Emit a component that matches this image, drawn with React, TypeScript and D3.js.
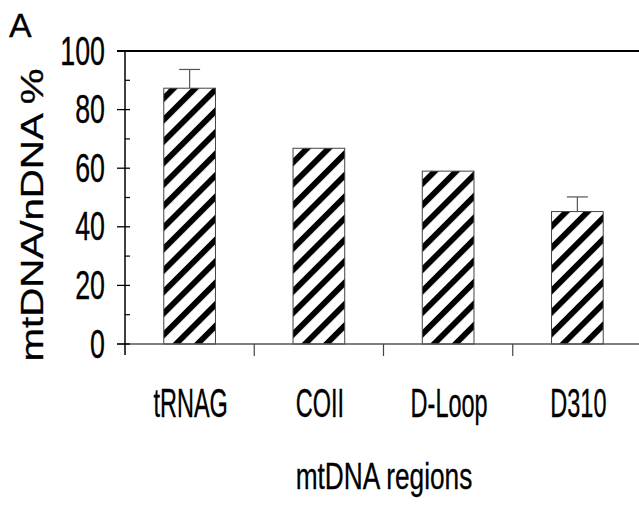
import React from "react";
import * as d3 from "d3";

const categories = ["tRNAG", "COII", "D-Loop", "D310"];
const values = [87.3, 66.8, 59.0, 45.2];
const errors = [6.4, 0, 0, 5.0];
const majorTicks = [0, 20, 40, 60, 80, 100];
const minorTicks = [10, 30, 50, 70, 90];
const yTitle = "mtDNA/nDNA %";
const xTitle = "mtDNA regions";
const panelLabel = "A";

const W = 639;
const H = 506;
const FONT = "'Liberation Sans', Arial, sans-serif";

export default function App() {
  const x = d3.scaleBand<string>().domain(categories).range([125, 642]).padding(0);
  const y = d3.scaleLinear().domain([0, 100]).range([344, 51]);
  const bw = x.bandwidth();
  const barW = bw * 0.4;
  const boundaries = categories.slice(1).map((c) => x(c) as number);

  return (
    <svg
      width={W}
      height={H}
      style={{ position: "absolute", left: 0, top: 0, background: "#fff" }}
      fontFamily={FONT}
    >
      <defs>
        <pattern
          id="hatch"
          patternUnits="userSpaceOnUse"
          width={15.2}
          height={10}
          patternTransform="rotate(45)"
        >
          <rect x={0} y={0} width={15.2} height={10} fill="#fff" />
          <rect x={0} y={0} width={5.8} height={10} fill="#000" />
        </pattern>
      </defs>
      <rect x={0} y={0} width={W} height={H} fill="#fff" />

      {/* panel label */}
      <text x={9} y={36.5} fontSize={34} fill="#000" stroke="#000" strokeWidth={0.3}>
        {panelLabel}
      </text>

      {/* top frame line */}
      <line x1={117} x2={W} y1={y(100)} y2={y(100)} stroke="#000" strokeWidth={2} />

      {/* bars */}
      {categories.map((c, i) => {
        const cx = (x(c) as number) + bw / 2;
        return (
          <g key={c}>
            {errors[i] > 0 && (
              <g stroke="#555" strokeWidth={1.2}>
                <line x1={cx} x2={cx} y1={y(values[i])} y2={y(values[i] + errors[i])} />
                <line
                  x1={cx - 10.5}
                  x2={cx + 10.5}
                  y1={y(values[i] + errors[i])}
                  y2={y(values[i] + errors[i])}
                />
              </g>
            )}
            <rect
              x={cx - barW / 2}
              y={y(values[i])}
              width={barW}
              height={y(0) - y(values[i])}
              fill="url(#hatch)"
              stroke="#444"
              strokeWidth={1}
            />
          </g>
        );
      })}

      {/* baseline */}
      <line x1={117} x2={W} y1={y(0)} y2={y(0)} stroke="#555" strokeWidth={1.5} />
      {/* category boundary ticks */}
      {boundaries.map((b, i) => (
        <line key={i} x1={b} x2={b} y1={y(0)} y2={y(0) + 12} stroke="#444" strokeWidth={1.2} />
      ))}

      {/* y axis */}
      <line x1={125} x2={125} y1={y(100)} y2={y(0) + 11} stroke="#000" strokeWidth={1.5} />
      {majorTicks.map((t) => (
        <g key={t}>
          <line x1={117} x2={130} y1={y(t)} y2={y(t)} stroke="#000" strokeWidth={1.3} />
          <text
            transform={`translate(105,${y(t) + 13.5}) scale(0.67,1)`}
            textAnchor="end"
            fontSize={40}
            fill="#000"
            stroke="#000"
            strokeWidth={0.35}
          >
            {t}
          </text>
        </g>
      ))}
      {minorTicks.map((t) => (
        <line key={t} x1={125} x2={130} y1={y(t)} y2={y(t)} stroke="#000" strokeWidth={1.2} />
      ))}

      {/* category labels */}
      {categories.map((c) => (
        <text
          key={c}
          transform={`translate(${(x(c) as number) + bw / 2 + 1},416.5) scale(0.58,1)`}
          textAnchor="middle"
          fontSize={40.5}
          fill="#000"
          stroke="#000"
          strokeWidth={0.35}
        >
          {c}
        </text>
      ))}

      {/* x title */}
      <text
        transform={`translate(384,488.5) scale(0.72,1)`}
        textAnchor="middle"
        fontSize={36.5}
        fill="#000"
        stroke="#000"
        strokeWidth={0.3}
      >
        {xTitle}
      </text>

      {/* y title */}
      <text
        transform={`translate(43,215) rotate(-90) scale(1.3,1)`}
        textAnchor="middle"
        fontSize={31}
        fill="#000"
        stroke="#000"
        strokeWidth={0.3}
      >
        {yTitle}
      </text>
    </svg>
  );
}
